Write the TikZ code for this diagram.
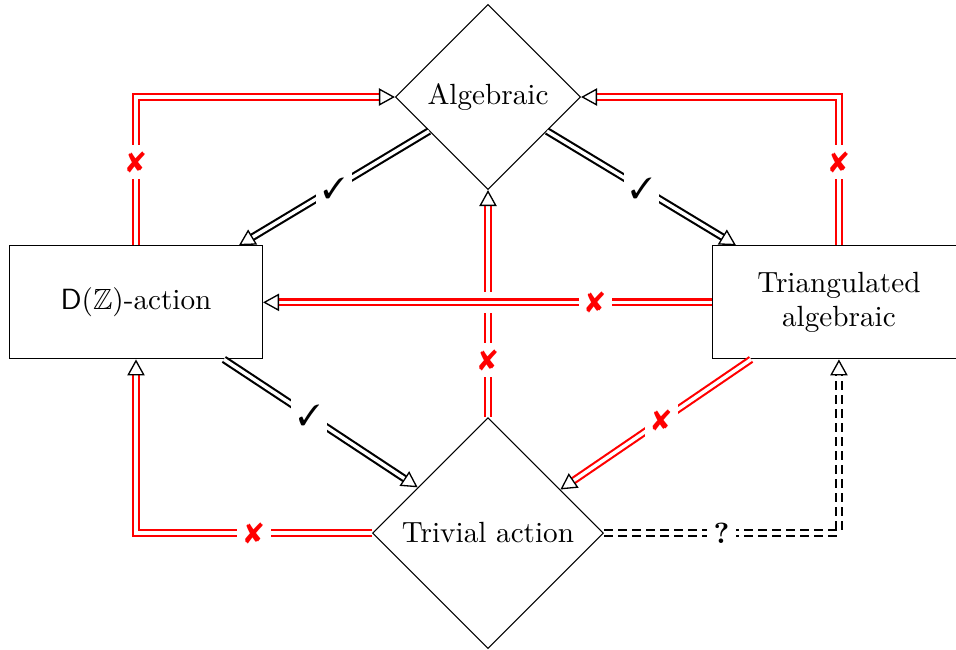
\documentclass[tikz,border=0pt]{standalone}
\usepackage{amsmath}
\usepackage{amssymb}
\usepackage{pifont}
\usetikzlibrary{arrows.meta,positioning,shapes.geometric}

\begin{document}
\begin{tikzpicture}[x=0.375pt,y=-0.375pt,on grid,
    font=\fontsize{10.95pt}{12.8pt}\selectfont,
    >={Triangle[color=black,fill=white,length=6pt,width=6.5pt,line width=0.5pt]},
    impl/.style={->,double,double distance=1.3pt,line width=0.8pt},
    no/.style={impl,draw=red},
    yes/.style={impl,draw=black},
    maybe/.style={impl,draw=black,dash pattern=on 3.5pt off 1.75pt},
    tag/.style={fill=white,inner sep=2.5pt},
    nox/.style={tag,text=red},
    dia/.style={draw,diamond,aspect=1,inner sep=0pt},
    box/.style={draw,rectangle,minimum width=94.9pt,minimum height=42.4pt,align=center}]
  \useasboundingbox (0,0) rectangle (956,649);
      \node[dia,minimum size=69.4pt] (alg) at (488,97) {Algebraic};
      \node[box] (dz) [below left=77pt and 132pt of alg] {$\mathsf{D}(\mathbb{Z})$-action};
      \node[box] (tri) [below right=77pt and 131.6pt of alg] {Triangulated\\algebraic};
      \node[dia,minimum size=86.6pt] (triv) [below=163.5pt of alg] {Trivial action};
      \draw[no] (dz.north) |- node[nox,pos=.28] {\ding{56}} (alg.west);
      \draw[no] (tri.north) |- node[nox,pos=.28] {\ding{56}} (alg.east);
      \draw[yes] (alg.210) -- node[tag] {\ding{51}} (dz.29);
      \draw[yes] (alg.-30) -- node[tag] {\ding{51}} (tri.151);
      \draw[no] (triv.north) -- node[nox,pos=.25] {\ding{56}} (alg.south);
      % gap where the two red arrows cross
      \draw[white,line width=8pt] (tri.west) -- (dz.east);
      \draw[no] (tri.west) -- node[nox,pos=.26] {\ding{56}} (dz.east);
      \draw[yes] (dz.-33) -- node[tag,pos=.44] {\ding{51}} (triv.147);
      \draw[no] (tri.213) -- node[nox,pos=.47] {\ding{56}} (triv.31);
      \draw[no] (triv.west) -| node[nox,pos=.25] {\ding{56}} (dz.south);
      \draw[maybe] (triv.east) -| node[tag,pos=.25] {\textbf{?}} (tri.south);
\end{tikzpicture}
\end{document}
